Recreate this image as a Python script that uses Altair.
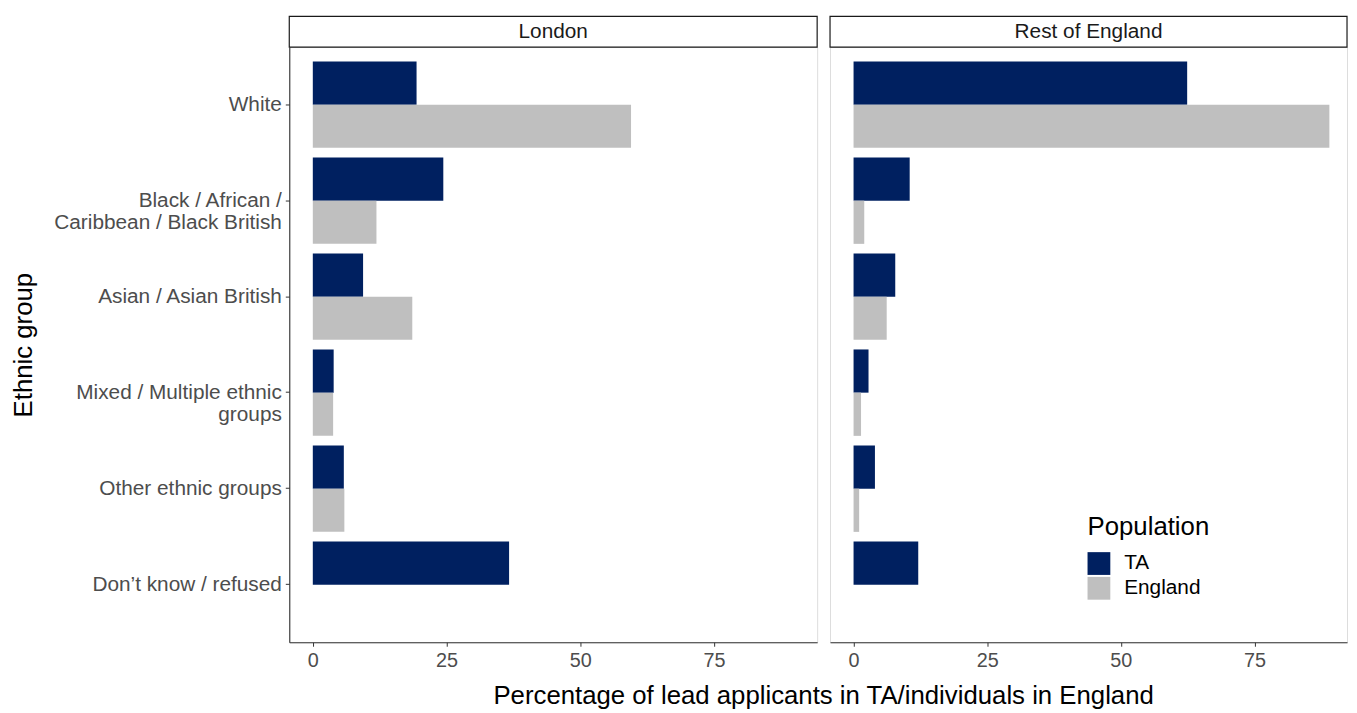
import altair as alt
import pandas as pd

# ---- data ----
groups = [
    "White",
    "Black / African / Caribbean / Black British",
    "Asian / Asian British",
    "Mixed / Multiple ethnic groups",
    "Other ethnic groups",
    "Don\u2019t know / refused",
]
populations = ["TA", "England"]
regions = ["London", "Rest of England"]

london_ta = [19.4, 24.4, 9.4, 3.9, 5.8, 36.7]
london_england = [59.5, 11.9, 18.6, 3.8, 5.9, None]
rest_ta = [62.4, 10.5, 7.8, 2.8, 4.0, 12.1]
rest_england = [89.0, 2.0, 6.2, 1.4, 1.05, None]

rows = []
for region, ta_vals, eng_vals in [
    ("London", london_ta, london_england),
    ("Rest of England", rest_ta, rest_england),
]:
    for g, t, e in zip(groups, ta_vals, eng_vals):
        if t is not None:
            rows.append({"Region": region, "Group": g, "Population": "TA", "Value": t})
        if e is not None:
            rows.append({"Region": region, "Group": g, "Population": "England", "Value": e})
df = pd.DataFrame(rows)

NAVY = "#002060"
GREY = "#BFBFBF"
FONT = "Liberation Sans"
PANEL_H = 601
STRIP_H = 31

label_expr = (
    "datum.label == 'Black / African / Caribbean / Black British' ? "
    "['Black / African /', 'Caribbean / Black British'] : "
    "datum.label == 'Mixed / Multiple ethnic groups' ? "
    "['Mixed / Multiple ethnic', 'groups'] : datum.label"
)


def panel(region, width, dmax, show_y, show_legend):
    y_axis = (
        alt.Axis(
            title="Ethnic group",
            titleFontSize=26,
            titleFont=FONT,
            titleFontWeight="normal",
            titleColor="black",
            titleX=-255.5,
            titleY=PANEL_H / 2,
            labelFontSize=21,
            labelFont=FONT,
            labelColor="#4D4D4D",
            labelExpr=label_expr,
            labelLineHeight=23,
            labelPadding=4,
            tickSize=4,
            tickColor="#333333",
            domainColor="#333333",
            domainWidth=1.1,
            labelLimit=400,
        )
        if show_y
        else None
    )
    legend = (
        alt.Legend(
            title="Population",
            orient="none",
            legendX=260,
            legendY=472,
            symbolType="square",
            symbolSize=529,
            symbolStrokeWidth=0,
            symbolOpacity=1,
            titleFontSize=26,
            titleFont=FONT,
            titleFontWeight="normal",
            titleColor="black",
            titlePadding=12,
            labelFontSize=21,
            labelFont=FONT,
            labelColor="black",
            labelOffset=14,
            rowPadding=2,
            padding=0,
        )
        if show_legend
        else None
    )
    bars = (
        alt.Chart(df)
        .transform_filter(alt.datum.Region == region)
        .mark_bar()
        .encode(
            x=alt.X(
                "Value:Q",
                scale=alt.Scale(domain=[-4.4, dmax], nice=False, zero=False),
                axis=alt.Axis(
                    values=[0, 25, 50, 75],
                    title=None,
                    grid=False,
                    labelFontSize=20,
                    labelFont=FONT,
                    labelColor="#4D4D4D",
                    labelPadding=4,
                    tickSize=4,
                    tickColor="#333333",
                    domainColor="#333333",
                    domainWidth=1.1,
                ),
            ),
            x2=alt.datum(0),
            y=alt.Y(
                "Group:N",
                sort=groups,
                scale=alt.Scale(paddingInner=0.1, paddingOuter=0.15),
                axis=y_axis,
            ),
            yOffset=alt.YOffset("Population:N", sort=populations,
                                scale=alt.Scale(domain=populations)),
            color=alt.Color(
                "Population:N",
                scale=alt.Scale(domain=populations, range=[NAVY, GREY]),
                legend=legend,
            ),
        )
    )
    strip_df = pd.DataFrame({"Region": [region]})
    strip_rect = (
        alt.Chart(strip_df)
        .mark_rect(fill="white", stroke="#1A1A1A", strokeWidth=1.2)
        .encode(
            x=alt.value(0),
            x2=alt.value(width),
            y=alt.value(-STRIP_H),
            y2=alt.value(0),
        )
    )
    strip_text = (
        alt.Chart(strip_df)
        .mark_text(fontSize=21, font=FONT, color="#1A1A1A", baseline="middle")
        .encode(
            x=alt.value(width / 2),
            y=alt.value(-STRIP_H / 2),
            text="Region:N",
        )
    )
    return alt.layer(bars, strip_rect, strip_text).properties(width=width, height=PANEL_H)


london = panel("London", 533, 94.3, True, False)
rest = panel("Rest of England", 522, 92.3, False, True)

chart = (
    alt.hconcat(london, rest, spacing=9)
    .resolve_scale(color="independent")
    .properties(
        title=alt.TitleParams(
            "Percentage of lead applicants in TA/individuals in England",
            orient="bottom",
            anchor="middle",
            fontSize=26,
            font=FONT,
            fontWeight="normal",
            color="black",
            offset=13,
            dx=146,
        ),
        padding={"left": 2, "top": 3, "right": 0, "bottom": 0},
    )
    .configure_view(stroke=None)
    .configure(font=FONT)
)

chart.save("out.html", embed_options={"renderer": "svg", "actions": False})
